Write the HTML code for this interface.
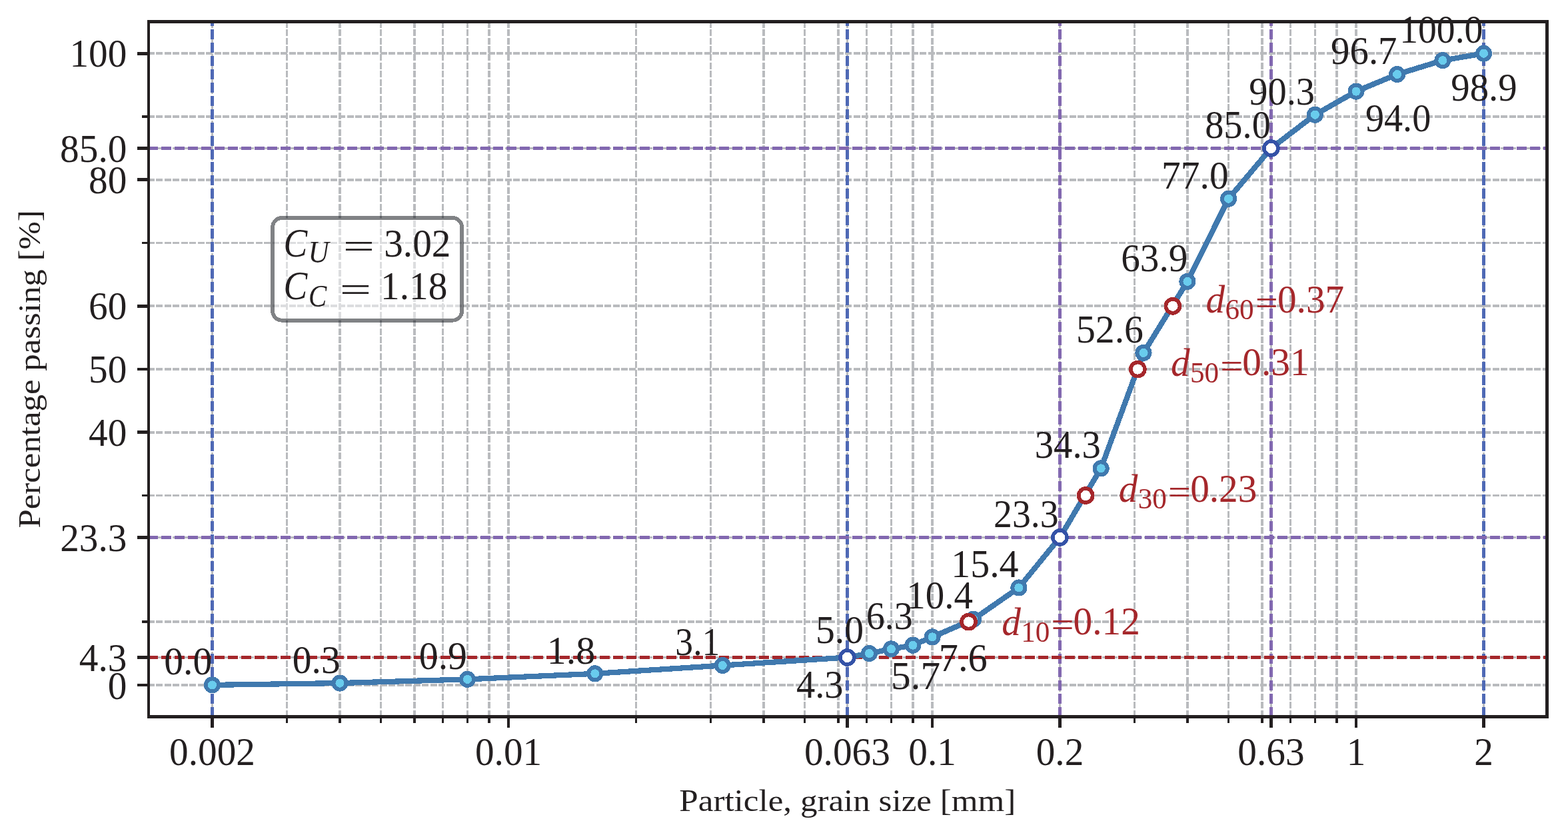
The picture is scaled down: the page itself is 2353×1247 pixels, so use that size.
<!DOCTYPE html>
<html><head><meta charset="utf-8"><title>Grain size distribution</title>
<style>html,body{margin:0;padding:0;background:#fff;width:2353px;height:1247px}svg{display:block}</style></head>
<body><svg width="2353" height="1247" viewBox="0 0 2353 1247">
<rect width="2353" height="1247" fill="#fff"/>
<g shape-rendering="crispEdges">
<g fill="none" stroke="#b9bbbe" stroke-width="3.70" stroke-dasharray="10 2.456">
<path d="M318.50 1075.50V32.50"/>
<path d="M430.49 1075.50V32.50"/>
<path d="M509.96 1075.50V32.50"/>
<path d="M571.59 1075.50V32.50"/>
<path d="M621.95 1075.50V32.50"/>
<path d="M664.53 1075.50V32.50"/>
<path d="M701.41 1075.50V32.50"/>
<path d="M733.94 1075.50V32.50"/>
<path d="M763.04 1075.50V32.50"/>
<path d="M954.50 1075.50V32.50"/>
<path d="M1066.49 1075.50V32.50"/>
<path d="M1145.96 1075.50V32.50"/>
<path d="M1207.59 1075.50V32.50"/>
<path d="M1257.95 1075.50V32.50"/>
<path d="M1271.43 1075.50V32.50"/>
<path d="M1300.53 1075.50V32.50"/>
<path d="M1337.41 1075.50V32.50"/>
<path d="M1369.94 1075.50V32.50"/>
<path d="M1399.04 1075.50V32.50"/>
<path d="M1590.50 1075.50V32.50"/>
<path d="M1702.49 1075.50V32.50"/>
<path d="M1781.96 1075.50V32.50"/>
<path d="M1843.59 1075.50V32.50"/>
<path d="M1893.95 1075.50V32.50"/>
<path d="M1907.43 1075.50V32.50"/>
<path d="M1936.53 1075.50V32.50"/>
<path d="M1973.41 1075.50V32.50"/>
<path d="M2005.94 1075.50V32.50"/>
<path d="M2035.04 1075.50V32.50"/>
<path d="M2226.50 1075.50V32.50"/>
<path d="M222.00 1027.90H2321.50"/>
<path d="M222.00 986.50H2321.50"/>
<path d="M222.00 806.50H2321.50"/>
<path d="M222.00 648.84H2321.50"/>
<path d="M222.00 554.08H2321.50"/>
<path d="M222.00 459.31H2321.50"/>
<path d="M222.00 269.78H2321.50"/>
<path d="M222.00 222.50H2321.50"/>
<path d="M222.00 80.25H2321.50"/>
<path d="M222.00 933.14H2321.50"/>
<path d="M222.00 743.61H2321.50"/>
<path d="M222.00 364.55H2321.50"/>
<path d="M222.00 175.02H2321.50"/>
</g>
<g fill="none" stroke-width="4.60" stroke-dasharray="15 4.94">
<path d="M318.50 1076.00V32.50" stroke="#4f69b5"/>
<path d="M1271.43 1076.00V32.50" stroke="#4f69b5"/>
<path d="M2226.50 1076.00V32.50" stroke="#4f69b5"/>
<path d="M1590.50 1076.00V32.50" stroke="#8268b0"/>
<path d="M1907.43 1076.00V32.50" stroke="#8268b0"/>
<path d="M222.00 986.50H2321.50" stroke="#a5272b"/>
<path d="M222.00 806.50H2321.50" stroke="#8268b0"/>
<path d="M222.00 222.50H2321.50" stroke="#8268b0"/>
</g>
<polyline points="318.50,1027.90 509.96,1025.06 701.41,1019.37 892.87,1010.84 1084.32,998.52 1271.43,986.50 1304.45,980.52 1337.41,973.88 1369.94,968.20 1399.04,955.88 1460.68,929.34 1528.87,881.96 1590.50,806.50 1652.13,702.86 1715.97,529.44 1781.96,422.35 1843.59,298.21 1907.43,222.50 1973.41,172.17 2035.04,137.11 2096.68,111.52 2164.87,90.67 2226.50,80.25" fill="none" stroke="#4079ae" stroke-width="8.2" stroke-linejoin="round"/>
<g fill="#69cced" stroke="#4079ae" stroke-width="6.0">
<circle cx="318.50" cy="1027.90" r="9.55"/>
<circle cx="509.96" cy="1025.06" r="9.55"/>
<circle cx="701.41" cy="1019.37" r="9.55"/>
<circle cx="892.87" cy="1010.84" r="9.55"/>
<circle cx="1084.32" cy="998.52" r="9.55"/>
<circle cx="1271.43" cy="986.50" r="9.55"/>
<circle cx="1304.45" cy="980.52" r="9.55"/>
<circle cx="1337.41" cy="973.88" r="9.55"/>
<circle cx="1369.94" cy="968.20" r="9.55"/>
<circle cx="1399.04" cy="955.88" r="9.55"/>
<circle cx="1460.68" cy="929.34" r="9.55"/>
<circle cx="1528.87" cy="881.96" r="9.55"/>
<circle cx="1590.50" cy="806.50" r="9.55"/>
<circle cx="1652.13" cy="702.86" r="9.55"/>
<circle cx="1715.97" cy="529.44" r="9.55"/>
<circle cx="1781.96" cy="422.35" r="9.55"/>
<circle cx="1843.59" cy="298.21" r="9.55"/>
<circle cx="1907.43" cy="222.50" r="9.55"/>
<circle cx="1973.41" cy="172.17" r="9.55"/>
<circle cx="2035.04" cy="137.11" r="9.55"/>
<circle cx="2096.68" cy="111.52" r="9.55"/>
<circle cx="2164.87" cy="90.67" r="9.55"/>
<circle cx="2226.50" cy="80.25" r="9.55"/>
</g>
<g fill="#fff" stroke="#3452a7" stroke-width="5.7">
<circle cx="1271.43" cy="986.50" r="10.5"/>
<circle cx="1590.50" cy="806.50" r="10.5"/>
<circle cx="1907.43" cy="222.50" r="10.5"/>
</g>
<g fill="#fff" stroke="#a5272b" stroke-width="5.7">
<circle cx="1453.57" cy="933.14" r="10.5"/>
<circle cx="1629.15" cy="743.61" r="10.5"/>
<circle cx="1707.35" cy="554.08" r="10.5"/>
<circle cx="1759.92" cy="459.31" r="10.5"/>
</g>
<g stroke="#231f20" fill="none">
<rect x="223.00" y="32.50" width="2098.50" height="1043.00" stroke-width="4.6"/>
<g stroke-width="4.7">
<path d="M318.50 1075.50v16.90"/>
<path d="M763.04 1075.50v16.90"/>
<path d="M1271.43 1075.50v16.90"/>
<path d="M1399.04 1075.50v16.90"/>
<path d="M1590.50 1075.50v16.90"/>
<path d="M1907.43 1075.50v16.90"/>
<path d="M2035.04 1075.50v16.90"/>
<path d="M2226.50 1075.50v16.90"/>
<path d="M223.00 1027.90h-16.90"/>
<path d="M223.00 986.50h-16.90"/>
<path d="M223.00 806.50h-16.90"/>
<path d="M223.00 648.84h-16.90"/>
<path d="M223.00 554.08h-16.90"/>
<path d="M223.00 459.31h-16.90"/>
<path d="M223.00 269.78h-16.90"/>
<path d="M223.00 222.50h-16.90"/>
<path d="M223.00 80.25h-16.90"/>
</g><g stroke-width="3.7">
<path d="M430.49 1075.50v9.80"/>
<path d="M509.96 1075.50v9.80"/>
<path d="M571.59 1075.50v9.80"/>
<path d="M621.95 1075.50v9.80"/>
<path d="M664.53 1075.50v9.80"/>
<path d="M701.41 1075.50v9.80"/>
<path d="M733.94 1075.50v9.80"/>
<path d="M954.50 1075.50v9.80"/>
<path d="M1066.49 1075.50v9.80"/>
<path d="M1145.96 1075.50v9.80"/>
<path d="M1207.59 1075.50v9.80"/>
<path d="M1257.95 1075.50v9.80"/>
<path d="M1300.53 1075.50v9.80"/>
<path d="M1337.41 1075.50v9.80"/>
<path d="M1369.94 1075.50v9.80"/>
<path d="M1702.49 1075.50v9.80"/>
<path d="M1781.96 1075.50v9.80"/>
<path d="M1843.59 1075.50v9.80"/>
<path d="M1893.95 1075.50v9.80"/>
<path d="M1936.53 1075.50v9.80"/>
<path d="M1973.41 1075.50v9.80"/>
<path d="M2005.94 1075.50v9.80"/>
<path d="M223.00 933.14h-9.80"/>
<path d="M223.00 743.61h-9.80"/>
<path d="M223.00 364.55h-9.80"/>
<path d="M223.00 175.02h-9.80"/>
</g></g>
</g>
<g font-family="'Liberation Serif', serif" style="font-kerning:none">
<text transform="translate(104.43 100.35) scale(0.9550 1)" font-size="60.00" fill="#231f20">100</text>
<text transform="translate(90.11 242.60) scale(0.9550 1)" font-size="60.00" fill="#231f20">85.0</text>
<text transform="translate(133.08 289.88) scale(0.9550 1)" font-size="60.00" fill="#231f20">80</text>
<text transform="translate(133.08 479.41) scale(0.9550 1)" font-size="60.00" fill="#231f20">60</text>
<text transform="translate(133.08 574.18) scale(0.9550 1)" font-size="60.00" fill="#231f20">50</text>
<text transform="translate(133.08 668.94) scale(0.9550 1)" font-size="60.00" fill="#231f20">40</text>
<text transform="translate(90.16 826.60) scale(0.9550 1)" font-size="60.00" fill="#231f20">23.3</text>
<text transform="translate(118.81 1006.60) scale(0.9550 1)" font-size="60.00" fill="#231f20">4.3</text>
<text transform="translate(161.73 1049.00) scale(0.9550 1)" font-size="60.00" fill="#231f20">0</text>
<text transform="translate(254.04 1148.30) scale(0.9550 1)" font-size="60.00" fill="#231f20">0.002</text>
<text transform="translate(712.91 1148.30) scale(0.9550 1)" font-size="60.00" fill="#231f20">0.01</text>
<text transform="translate(1206.96 1148.30) scale(0.9550 1)" font-size="60.00" fill="#231f20">0.063</text>
<text transform="translate(1363.23 1148.30) scale(0.9550 1)" font-size="60.00" fill="#231f20">0.1</text>
<text transform="translate(1554.69 1148.30) scale(0.9550 1)" font-size="60.00" fill="#231f20">0.2</text>
<text transform="translate(1857.29 1148.30) scale(0.9550 1)" font-size="60.00" fill="#231f20">0.63</text>
<text transform="translate(2020.72 1148.30) scale(0.9550 1)" font-size="60.00" fill="#231f20">1</text>
<text transform="translate(2212.18 1148.30) scale(0.9550 1)" font-size="60.00" fill="#231f20">2</text>
<text transform="translate(246.21 1012.20) scale(0.9598 1)" font-size="60.00" fill="#231f20">0.0</text>
<text transform="translate(438.81 1009.60) scale(0.9592 1)" font-size="60.00" fill="#231f20">0.3</text>
<text transform="translate(628.80 1004.30) scale(0.9622 1)" font-size="60.00" fill="#231f20">0.9</text>
<text transform="translate(820.82 995.60) scale(0.9638 1)" font-size="60.00" fill="#231f20">1.8</text>
<text transform="translate(1013.34 982.90) scale(0.8931 1)" font-size="60.00" fill="#231f20">3.1</text>
<text transform="translate(1194.90 1046.60) scale(0.9429 1)" font-size="60.00" fill="#231f20">4.3</text>
<text transform="translate(1223.95 965.10) scale(0.9620 1)" font-size="60.00" fill="#231f20">5.0</text>
<text transform="translate(1336.95 1034.00) scale(0.9887 1)" font-size="60.00" fill="#231f20">5.7</text>
<text transform="translate(1299.79 943.80) scale(0.9347 1)" font-size="60.00" fill="#231f20">6.3</text>
<text transform="translate(1408.75 1007.20) scale(0.9732 1)" font-size="60.00" fill="#231f20">7.6</text>
<text transform="translate(1360.29 912.90) scale(0.9495 1)" font-size="60.00" fill="#231f20">10.4</text>
<text transform="translate(1427.21 866.20) scale(0.9657 1)" font-size="60.00" fill="#231f20">15.4</text>
<text transform="translate(1491.05 790.60) scale(0.9298 1)" font-size="60.00" fill="#231f20">23.3</text>
<text transform="translate(1552.68 687.00) scale(0.9460 1)" font-size="60.00" fill="#231f20">34.3</text>
<text transform="translate(1614.94 513.70) scale(0.9626 1)" font-size="60.00" fill="#231f20">52.6</text>
<text transform="translate(1682.18 406.50) scale(0.9550 1)" font-size="60.00" fill="#231f20">63.9</text>
<text transform="translate(1743.01 282.60) scale(0.9589 1)" font-size="60.00" fill="#231f20">77.0</text>
<text transform="translate(1808.15 206.80) scale(0.9400 1)" font-size="60.00" fill="#231f20">85.0</text>
<text transform="translate(1874.28 156.80) scale(0.9412 1)" font-size="60.00" fill="#231f20">90.3</text>
<text transform="translate(2048.89 197.10) scale(0.9367 1)" font-size="60.00" fill="#231f20">94.0</text>
<text transform="translate(1997.07 96.00) scale(0.9473 1)" font-size="60.00" fill="#231f20">96.7</text>
<text transform="translate(2177.27 151.30) scale(0.9463 1)" font-size="60.00" fill="#231f20">98.9</text>
<text transform="translate(2100.21 64.30) scale(0.9275 1)" font-size="60.00" fill="#231f20">100.0</text>
<text transform="translate(1503.24 952.64) scale(0.9550 1)" font-size="60.00" font-style="italic" fill="#a5272b">d</text>
<text transform="translate(1532.17 962.74) scale(0.9750 1)" font-size="44.30" fill="#a5272b">10</text>
<text transform="translate(1577.47 955.16) scale(1.1246 1)" font-size="53.70" fill="#a5272b">=</text>
<text transform="translate(1610.57 952.14) scale(0.9550 1)" font-size="60.00" fill="#a5272b">0.12</text>
<text transform="translate(1678.81 753.31) scale(0.9550 1)" font-size="60.00" font-style="italic" fill="#a5272b">d</text>
<text transform="translate(1707.75 763.41) scale(0.9750 1)" font-size="44.30" fill="#a5272b">30</text>
<text transform="translate(1753.04 755.83) scale(1.1246 1)" font-size="53.70" fill="#a5272b">=</text>
<text transform="translate(1786.15 752.81) scale(0.9550 1)" font-size="60.00" fill="#a5272b">0.23</text>
<text transform="translate(1757.02 563.98) scale(0.9550 1)" font-size="60.00" font-style="italic" fill="#a5272b">d</text>
<text transform="translate(1785.95 574.08) scale(0.9750 1)" font-size="44.30" fill="#a5272b">50</text>
<text transform="translate(1831.24 566.50) scale(1.1246 1)" font-size="53.70" fill="#a5272b">=</text>
<text transform="translate(1864.35 563.48) scale(0.9550 1)" font-size="60.00" fill="#a5272b">0.31</text>
<text transform="translate(1809.58 469.21) scale(0.9550 1)" font-size="60.00" font-style="italic" fill="#a5272b">d</text>
<text transform="translate(1838.52 479.31) scale(0.9750 1)" font-size="44.30" fill="#a5272b">60</text>
<text transform="translate(1883.81 471.74) scale(1.1246 1)" font-size="53.70" fill="#a5272b">=</text>
<text transform="translate(1916.92 468.71) scale(0.9550 1)" font-size="60.00" fill="#a5272b">0.37</text>
</g>
<rect x="409.1" y="327.0" width="284.0" height="153.7" rx="14" fill="#fff" fill-opacity="0.5" stroke="#02060c" stroke-opacity="0.5" stroke-width="5.8" shape-rendering="crispEdges"/>
<g font-family="'Liberation Serif', serif" style="font-kerning:none">
<text transform="translate(425.61 384.70) scale(0.8650 1)" font-size="62.00" font-style="italic" fill="#231f20">C</text>
<text transform="translate(462.54 394.40) scale(0.9500 1)" font-size="45.40" font-style="italic" fill="#231f20">U</text>
<text transform="translate(514.72 387.15) scale(1.5722 1)" font-size="53.45" fill="#231f20">=</text>
<text transform="translate(576.16 384.70) scale(0.9550 1)" font-size="60.00" fill="#231f20">3.02</text>
<text transform="translate(425.61 449.40) scale(0.8650 1)" font-size="62.00" font-style="italic" fill="#231f20">C</text>
<text transform="translate(463.03 459.80) scale(0.9000 1)" font-size="45.40" font-style="italic" fill="#231f20">C</text>
<text transform="translate(509.70 451.85) scale(1.5762 1)" font-size="53.45" fill="#231f20">=</text>
<text transform="translate(571.06 449.30) scale(0.9550 1)" font-size="60.00" fill="#231f20">1.18</text>
<text transform="translate(1019.33 1216.70) scale(1.0871 1)" font-size="47.00" fill="#231f20">Particle, grain size [mm]</text>
<text transform="translate(60.2 792.47) rotate(-90) scale(1.0821 1)" font-size="47.00" fill="#231f20">Percentage passing [%]</text>
</g>
</svg></body></html>
